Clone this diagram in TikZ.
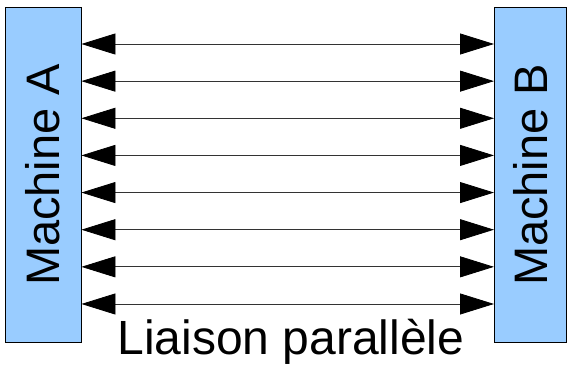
\documentclass[tikz,border=0pt]{standalone}
\usepackage{fontspec}
\setmainfont{Liberation Sans}
\usetikzlibrary{arrows.meta}
\definecolor{machinefill}{RGB}{153,204,255}
\begin{document}
\begin{tikzpicture}[x=1pt,y=-1pt,
  machine/.style={draw=black, line width=0.9pt, fill=machinefill,
    minimum width=75.5pt, minimum height=335pt, inner sep=0pt, anchor=north west},
  machinelabel/.style={rotate=90, font=\fontsize{47}{56}\selectfont, inner sep=0pt},
  link/.style={draw=black!80, line width=0.8pt,
    {Triangle[length=34pt,width=21pt,color=black]}-{Triangle[length=34pt,width=21pt,color=black]}}]
  \useasboundingbox (0,0) rectangle (567,367);
  % the two machines
  \node[machine] (A) at (5,7) {};
  \node[machine, minimum width=72pt] (B) at (494,7) {};
  \node[machinelabel] (la) at (A.center) {Machine A};
  \node[machinelabel] (lb) at (B.center) {Machine B};
  % eight data lines
  \foreach \i in {0,...,7}{
    \coordinate (r\i) at (0,{44+\i*37.14});
    \draw[link] (A.east |- r\i) -- (B.west |- r\i);
  }
  % caption
  \node[anchor=base, inner sep=0pt, font=\fontsize{48}{58}\selectfont] (cap) at (291,354) {Liaison parallèle};
\end{tikzpicture}
\end{document}
